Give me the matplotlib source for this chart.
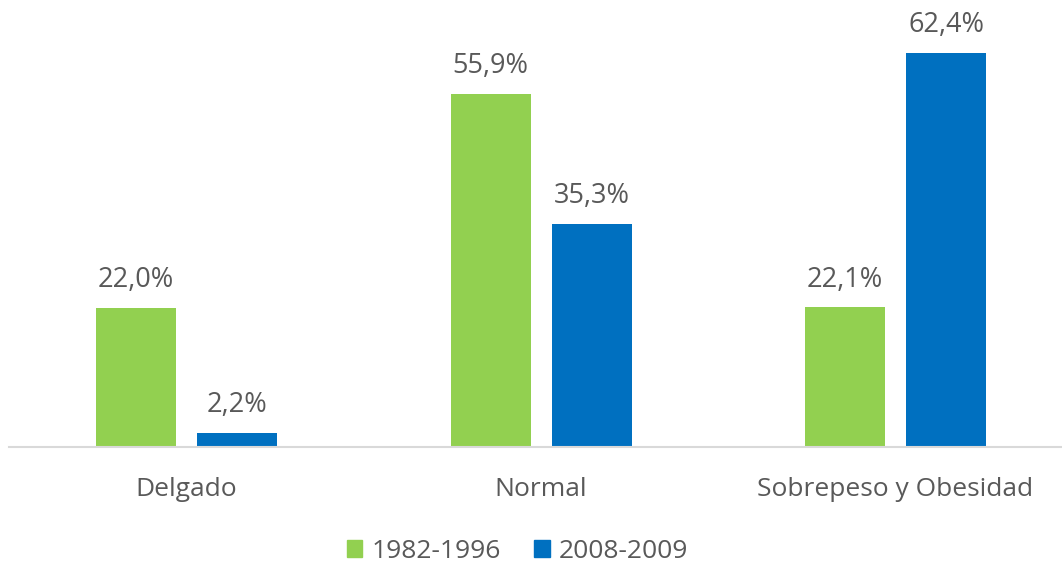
import matplotlib
matplotlib.use("Agg")
import matplotlib.pyplot as plt
from matplotlib.patches import Patch
import numpy as np

categories = ["Delgado", "Normal", "Sobrepeso y Obesidad"]
series_names = ["1982-1996", "2008-2009"]
values_1982 = [22.0, 55.9, 22.1]
values_2008 = [2.2, 35.3, 62.4]
colors = ["#92D050", "#0070C0"]

plt.rcParams['font.family'] = ['Open Sans', 'DejaVu Sans']
txt = "#595959"

W, H = 1062, 569
fig = plt.figure(figsize=(W/100, H/100), dpi=100)
left_px, base_px = 9.25, 447
ax = fig.add_axes([left_px/W, (H-base_px)/H, 1063.5/W, base_px/H])
ax.set_xlim(-0.5, 2.5)
ax.set_ylim(0, 447/6.314)

x = np.arange(len(categories))
bw = 80/354.5
off = 50.5/354.5
for vals, c, sgn in [(values_1982, colors[0], -1), (values_2008, colors[1], 1)]:
    bars = ax.bar(x + sgn*off, vals, width=bw, color=c, zorder=2)
    for b, v in zip(bars, vals):
        ax.annotate(f"{v:.1f}%".replace(".", ","), (b.get_x()+b.get_width()/2, v),
                    xytext=(0, 15.0), textcoords="offset points",
                    ha="center", va="baseline", fontsize=19.5, color=txt)

for s in ["top", "right", "left"]:
    ax.spines[s].set_visible(False)
ax.spines["bottom"].set_color("#D9D9D9")
ax.spines["bottom"].set_linewidth(1.5)
ax.set_yticks([])
ax.set_xticks(x)
ax.set_xticklabels(categories, fontsize=19, color=txt)
ax.tick_params(axis="x", length=0, pad=21.5)

handles = [Patch(color=c) for c in colors]
fig.legend(handles, series_names, loc="center", bbox_to_anchor=(517.5/W, 1-551.5/H),
           ncol=2, frameon=False, fontsize=19, labelcolor=txt,
           handlelength=0.6, handleheight=0.6, handletextpad=0.35, columnspacing=1.25)

fig.savefig("out.png", dpi=100)
